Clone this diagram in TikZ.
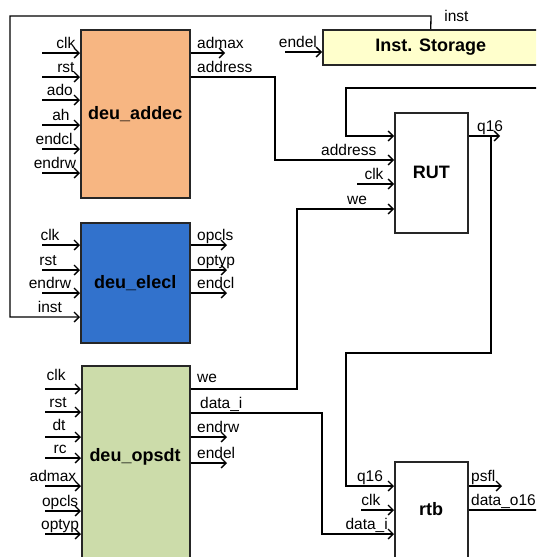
\documentclass[tikz,border=0pt]{standalone}
\usepackage{fontspec}
\setmainfont{Liberation Sans}
\usepackage{tikz}
\usetikzlibrary{arrows.meta,positioning}
\definecolor{addecc}{RGB}{247,182,130}
\definecolor{eleclc}{RGB}{50,114,204}
\definecolor{opsdtc}{RGB}{204,220,170}
\definecolor{istorec}{RGB}{255,255,204}

\begin{document}
\begin{tikzpicture}[x=1pt, y=-1pt, line width=1.3pt,
      font=\fontsize{15.5}{18}\selectfont,
      blk/.style={draw=black!85, line width=1.5pt, anchor=north west, inner sep=0pt,
                  font=\bfseries\fontsize{18}{20}\selectfont},
      bname/.style={font=\bfseries\fontsize{18}{20}\selectfont, inner sep=0pt},
      arr/.style={-{Straight Barb[length=5pt, width=10pt]}},
      ilbl/.style={anchor=base, yshift=4.5pt, inner sep=0pt},
      olbl/.style={anchor=base west, xshift=6pt, yshift=5pt, inner sep=0pt}]
    \useasboundingbox (0,0) rectangle (536,557);
    \clip (0,0) rectangle (536,557);
    % blocks
    \node[blk, fill=addecc, minimum width=109pt, minimum height=168pt] (addec) at (80,29) {deu\_addec};
    \node[blk, fill=eleclc, minimum width=109pt, minimum height=120pt] (elecl) at (80,222) {deu\_elecl};
    \node[blk, fill=opsdtc, minimum width=108pt, minimum height=240pt] (opsdt) at (81,365) {};
    \node[bname] (opsdtname) at (135,457) {deu\_opsdt};
    \node[blk, fill=istorec, minimum width=216pt, minimum height=35pt] (istore) at (322,29) {Inst. Storage};
    \node[blk, fill=white, minimum width=73pt, minimum height=120pt] (rut) at (394,112) {RUT};
    \node[blk, fill=white, minimum width=73pt, minimum height=140pt] (rtb) at (394,461) {};
    \node[bname] (rtbname) at (431,509) {rtb};
    % deu_addec pins
    \draw[arr] (42,53) coordinate (a-clk) -- (addec.west |- a-clk) node[ilbl, pos=.63] {clk};
    \draw[arr] (42,77) coordinate (a-rst) -- (addec.west |- a-rst) node[ilbl, pos=.63] {rst};
    \draw[arr] (42,100) coordinate (a-ado) -- (addec.west |- a-ado) node[ilbl, pos=.47] {ado};
    \draw[arr] (42,125) coordinate (a-ah) -- (addec.west |- a-ah) node[ilbl, pos=.5] {ah};
    \draw[arr] (42,149) coordinate (a-endcl) -- (addec.west |- a-endcl) node[ilbl, pos=.32] {endcl};
    \draw[arr] (42,173) coordinate (a-endrw) -- (addec.west |- a-endrw) node[ilbl, pos=.34] {endrw};
    \draw[arr] (addec.east |- 0,53) node[olbl] {admax} -- (225,53) coordinate (a-admax);
    \draw[arr] (addec.east |- 0,77) node[olbl] {address} -- (275,77) |- (rut.west |- 0,160) node[ilbl, pos=.81] {address};
    % deu_elecl pins
    \draw[arr] (42,245) coordinate (e-clk) -- (elecl.west |- e-clk) node[ilbl, pos=.21] {clk};
    \draw[arr] (42,270) coordinate (e-rst) -- (elecl.west |- e-rst) node[ilbl, pos=.16] {rst};
    \draw[arr] (42,293) coordinate (e-endrw) -- (elecl.west |- e-endrw) node[ilbl, pos=.21] {endrw};
    \draw[arr] (istore.north) node[olbl, xshift=7pt, yshift=3pt] {inst} -- (431,16) -| (10,317) -- (elecl.west |- 0,317) node[ilbl, pos=.57] {inst};
    \draw[arr] (elecl.east |- 0,245) node[olbl] {opcls} -- (227,245) coordinate (e-opcls);
    \draw[arr] (elecl.east |- 0,270) node[olbl] {optyp} -- (227,270) coordinate (e-optyp);
    \draw[arr] (elecl.east |- 0,293) node[olbl] {endcl} -- (227,293) coordinate (e-endcl);
    % deu_opsdt pins
    \draw[arr] (45,389) coordinate (o-clk) -- (opsdt.west |- o-clk) node[ilbl, pos=.31, yshift=4pt] {clk};
    \draw[arr] (45,412) coordinate (o-rst) -- (opsdt.west |- o-rst) node[ilbl, pos=.36] {rst};
    \draw[arr] (45,437) coordinate (o-dt) -- (opsdt.west |- o-dt) node[ilbl, pos=.39, yshift=2pt] {dt};
    \draw[arr] (45,458) coordinate (o-rc) -- (opsdt.west |- o-rc) node[ilbl, pos=.42] {rc};
    \draw[arr] (45,486) coordinate (o-admax) -- (opsdt.west |- o-admax) node[ilbl, pos=.22] {admax};
    \draw[arr] (45,511) coordinate (o-opcls) -- (opsdt.west |- o-opcls) node[ilbl, pos=.42] {opcls};
    \draw[arr] (45,534) coordinate (o-optyp) -- (opsdt.west |- o-optyp) node[ilbl, pos=.42] {optyp};
    \draw[arr] (opsdt.east |- 0,389) node[olbl, yshift=2pt] {we} -- (297,389) |- (rut.west |- 0,209) node[ilbl, pos=.81] {we};
    \draw[arr] (opsdt.east |- 0,413) node[olbl, xshift=3pt] {data\_i} -- (322,413) |- (rtb.west |- 0,534) node[ilbl, pos=.81] {data\_i};
    \draw[arr] (opsdt.east |- 0,437) node[olbl] {endrw} -- (227,437) coordinate (o-endrw);
    \draw[arr] (opsdt.east |- 0,463) node[olbl] {endel} -- (227,463) coordinate (o-endel);
    % Inst. Storage and RUT pins
    \draw[arr] (285,52) coordinate (i-endel) -- (istore.west |- i-endel) node[ilbl, pos=.35] {endel};
    \draw[arr] (540,88) coordinate (loopin) -| (346,136) -- (rut.west |- 0,136);
    \draw[arr] (357,184) coordinate (r-clk) -- (rut.west |- r-clk) node[ilbl, pos=.46] {clk};
    \draw[arr] (rut.east |- 0,136) node[olbl, xshift=2pt] {q16} -- (500,136) coordinate (r-q16);
    \draw[arr] (491,136) coordinate (q16tap) -- (491,353) -| (346,486) -- (rtb.west |- 0,486) node[ilbl, pos=.5] {q16};
    % rtb pins
    \draw[arr] (361,510) coordinate (t-clk) -- (rtb.west |- t-clk) node[ilbl, pos=.3] {clk};
    \draw[arr] (rtb.east |- 0,486) node[olbl, xshift=-4pt] {psfl} -- (502,486) coordinate (t-psfl);
    \draw (rtb.east |- 0,510) node[olbl, xshift=-4pt] {data\_o16} -- (540,510) coordinate (t-data);
  \end{tikzpicture}
\end{document}
